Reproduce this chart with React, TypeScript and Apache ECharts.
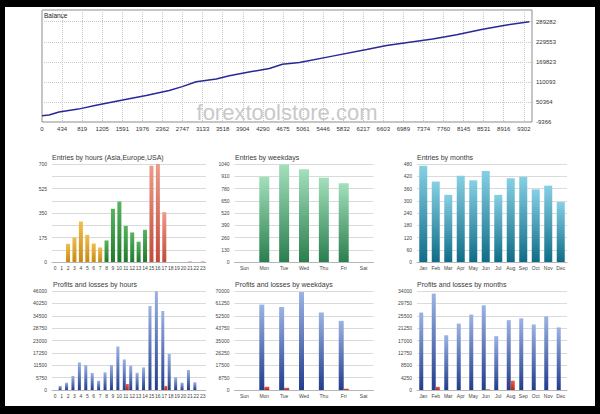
import React, { useEffect, useRef } from 'react';
import * as echarts from 'echarts';

// ---------- Balance chart data ----------
const balanceTrades = [0, 135, 329, 700, 1044, 1682, 2011, 2456, 2707, 2978, 3365, 3616, 3945, 4390, 4641, 4970, 5608, 6266, 6652, 7097, 7542, 8006, 8509, 8973, 9410];
const balanceValues = [9400, 11700, 20500, 29000, 40400, 60000, 69700, 84300, 96000, 110700, 118600, 128200, 138200, 149900, 162500, 167500, 186800, 206400, 218100, 227800, 237700, 250300, 267000, 279600, 289282];
const balanceXLabels = ['0', '434', '819', '1205', '1591', '1976', '2362', '2747', '3133', '3518', '3904', '4290', '4675', '5061', '5446', '5832', '6217', '6603', '6989', '7374', '7760', '8145', '8531', '8916', '9302'];
const balanceYLabels = ['-9366', '50364', '110093', '169823', '229553', '289282'];

// ---------- Categories ----------
const hours = ['0', '1', '2', '3', '4', '5', '6', '7', '8', '9', '10', '11', '12', '13', '14', '15', '16', '17', '18', '19', '20', '21', '22', '23'];
const weekdays = ['Sun', 'Mon', 'Tue', 'Wed', 'Thu', 'Fri', 'Sat'];
const months = ['Jan', 'Feb', 'Mar', 'Apr', 'May', 'Jun', 'Jul', 'Aug', 'Sep', 'Oct', 'Nov', 'Dec'];

// ---------- Entries ----------
const entriesByHour = [0, 0, 130, 175, 289, 194, 132, 104, 154, 380, 432, 258, 211, 145, 230, 688, 700, 356, 0, 0, 0, 4, 0, 4];
const entriesByWeekday = [0, 906, 1035, 984, 895, 836, 0];
const entriesByMonth = [472, 394, 329, 423, 400, 446, 329, 410, 417, 356, 374, 294];

// ---------- Profits / losses ----------
const profitsByHour = [0, 1900, 3400, 6500, 12800, 11600, 7900, 4300, 8200, 11600, 20200, 14200, 11300, 8000, 10500, 39000, 45900, 36700, 16800, 5900, 3400, 9300, 3600, 0];
const lossesByHour = [0, 0, 0, 0, 0, 0, 0, 0, 0, 0, 0, 2800, 0, 0, 0, 0, 0, 1900, 0, 0, 0, 0, 0, 0];
const profitsByWeekday = [0, 60400, 58700, 69300, 54800, 48900, 0];
const lossesByWeekday = [0, 2300, 1600, 0, 0, 900, 0];
const profitsByMonth = [26600, 33100, 18800, 22800, 25900, 29100, 18500, 24000, 24600, 22500, 25300, 21500];
const lossesByMonth = [0, 1100, 0, 0, 0, 250, 0, 3200, 0, 0, 0, 0];

const FONT = 'Liberation Sans, Arial, sans-serif';

const grad = (a: string, b: string) =>
  new echarts.graphic.LinearGradient(0, 0, 0, 1, [
    { offset: 0, color: a },
    { offset: 1, color: b },
  ]);

const sessionColor = (h: number) => {
  if (h < 8) return grad('#f0bd4e', '#c98a12');
  if (h < 15) return grad('#56b45e', '#1f7a2c');
  return grad('#ee9a8a', '#c24a3a');
};

export default function App() {
  const ref = useRef<HTMLDivElement>(null);

  useEffect(() => {
    if (!ref.current) return;
    const chart = echarts.init(ref.current, undefined, { renderer: 'svg' });

    const xStep = 9302 / 24;
    const yStep = (289282 + 9366) / 5;

    const smallGrids = [
      { left: 52, top: 164, width: 154, height: 98 },
      { left: 234.5, top: 164, width: 139, height: 98 },
      { left: 417, top: 164, width: 150, height: 98 },
      { left: 52, top: 291, width: 154, height: 99 },
      { left: 234.5, top: 291, width: 139, height: 99 },
      { left: 417, top: 291, width: 150, height: 99 },
    ];
    const cats = [hours, weekdays, months, hours, weekdays, months];
    const maxes = [700, 1040, 480, 46000, 70000, 34000];

    const smallX = cats.map((c, i) => ({
      type: 'category',
      gridIndex: i + 1,
      data: c,
      axisLine: { lineStyle: { color: '#b5b5b5' } },
      axisTick: { show: false },
      axisLabel: { interval: 0, fontSize: 5, color: '#444', margin: 3, fontFamily: FONT },
    }));
    const smallY = maxes.map((m, i) => ({
      type: 'value',
      gridIndex: i + 1,
      min: 0,
      max: m,
      interval: m / 8,
      axisLine: { show: false },
      axisTick: { show: false },
      axisLabel: {
        fontSize: 5,
        color: '#444',
        margin: 5,
        fontFamily: FONT,
        formatter: (v: number) => (i === 0 ? (Math.abs(v % 175) < 0.01 ? String(v) : '') : String(Math.round(v))),
      },
      splitLine: { lineStyle: { color: '#dadada', width: 1 } },
    }));

    const title = (text: string, x: number, y: number) => ({
      type: 'text',
      x,
      y,
      style: { text, fontSize: 7, fill: '#3a3a3a', fontFamily: FONT, verticalAlign: 'middle' },
    });

    const blue = grad('#9cb3e4', '#213d8d');
    const red = grad('#e8604c', '#b3281a');

    chart.setOption({
      animation: false,
      backgroundColor: 'transparent',
      grid: [
        { left: 42, top: 10, width: 490, height: 112, show: true, borderColor: '#8a8a8a', borderWidth: 1 },
        ...smallGrids,
      ],
      xAxis: [
        {
          type: 'value',
          gridIndex: 0,
          min: 0,
          max: 9460,
          interval: xStep,
          axisLine: { show: false },
          axisTick: { show: false },
          axisLabel: {
            fontSize: 6,
            color: '#333',
            margin: 4,
            fontFamily: FONT,
            formatter: (v: number) => {
              const k = Math.round(v / xStep);
              return Math.abs(v - k * xStep) < 1 && balanceXLabels[k] !== undefined ? balanceXLabels[k] : '';
            },
          },
          splitLine: { show: true, lineStyle: { type: 'dotted', color: '#c8c8c8' } },
        },
        ...smallX,
      ],
      yAxis: [
        {
          type: 'value',
          gridIndex: 0,
          position: 'right',
          min: -9366,
          max: 324134,
          interval: yStep,
          axisLine: { show: false },
          axisTick: { show: false },
          axisLabel: {
            fontSize: 6,
            color: '#333',
            margin: 4,
            fontFamily: FONT,
            formatter: (v: number) => {
              const k = Math.round((v + 9366) / yStep);
              return Math.abs(v + 9366 - k * yStep) < 1 && balanceYLabels[k] !== undefined ? balanceYLabels[k] : '';
            },
          },
          splitLine: { show: true, lineStyle: { type: 'dotted', color: '#c8c8c8' } },
        },
        ...smallY,
      ],
      graphic: [
        { type: 'text', x: 44, y: 15, style: { text: 'Balance', fontSize: 6.5, fill: '#222', fontFamily: FONT, verticalAlign: 'middle' } },
        {
          type: 'text',
          x: 287,
          y: 112,
          z: 1,
          style: { text: 'forextoolstore.com', fontSize: 22, fill: '#c9c9c9', fontFamily: FONT, align: 'center', verticalAlign: 'middle' },
        },
        title('Entries by hours (Asia,Europe,USA)', 52, 157.5),
        title('Entries by weekdays', 235, 157.5),
        title('Entries by months', 417, 157.5),
        title('Profits and losses by hours', 53, 284.5),
        title('Profits and losses by weekdays', 235, 284.5),
        title('Profits and losses by months', 417, 284.5),
      ],
      series: [
        {
          type: 'line',
          xAxisIndex: 0,
          yAxisIndex: 0,
          showSymbol: false,
          data: balanceTrades.map((t, i) => [t, balanceValues[i]]),
          lineStyle: { color: '#28289a', width: 1.5 },
          z: 3,
        },
        {
          type: 'bar',
          xAxisIndex: 1,
          yAxisIndex: 1,
          barWidth: 4,
          data: entriesByHour.map((v, i) => ({ value: v, itemStyle: { color: sessionColor(i) } })),
        },
        {
          type: 'bar',
          xAxisIndex: 2,
          yAxisIndex: 2,
          barWidth: 10,
          data: entriesByWeekday,
          itemStyle: { color: grad('#a3e0bc', '#2a7e4e') },
        },
        {
          type: 'bar',
          xAxisIndex: 3,
          yAxisIndex: 3,
          barWidth: 8,
          data: entriesByMonth,
          itemStyle: { color: grad('#86d0e4', '#0f6c88') },
        },
        { type: 'bar', xAxisIndex: 4, yAxisIndex: 4, barWidth: 3, barGap: '0%', data: profitsByHour, itemStyle: { color: blue } },
        { type: 'bar', xAxisIndex: 4, yAxisIndex: 4, barWidth: 3, barGap: '0%', data: lossesByHour, itemStyle: { color: red } },
        { type: 'bar', xAxisIndex: 5, yAxisIndex: 5, barWidth: 5, barGap: '0%', data: profitsByWeekday, itemStyle: { color: blue } },
        { type: 'bar', xAxisIndex: 5, yAxisIndex: 5, barWidth: 5, barGap: '0%', data: lossesByWeekday, itemStyle: { color: red } },
        { type: 'bar', xAxisIndex: 6, yAxisIndex: 6, barWidth: 4, barGap: '0%', data: profitsByMonth, itemStyle: { color: blue } },
        { type: 'bar', xAxisIndex: 6, yAxisIndex: 6, barWidth: 4, barGap: '0%', data: lossesByMonth, itemStyle: { color: red } },
      ],
    });

    return () => chart.dispose();
  }, []);

  return (
    <div style={{ position: 'fixed', left: 0, top: 0, width: 600, height: 414, background: '#000', overflow: 'hidden' }}>
      <div style={{ position: 'absolute', left: 5, top: 7, width: 590, height: 399, background: '#fff' }} />
      <div ref={ref} style={{ position: 'absolute', left: 0, top: 0, width: 600, height: 414 }} />
    </div>
  );
}
